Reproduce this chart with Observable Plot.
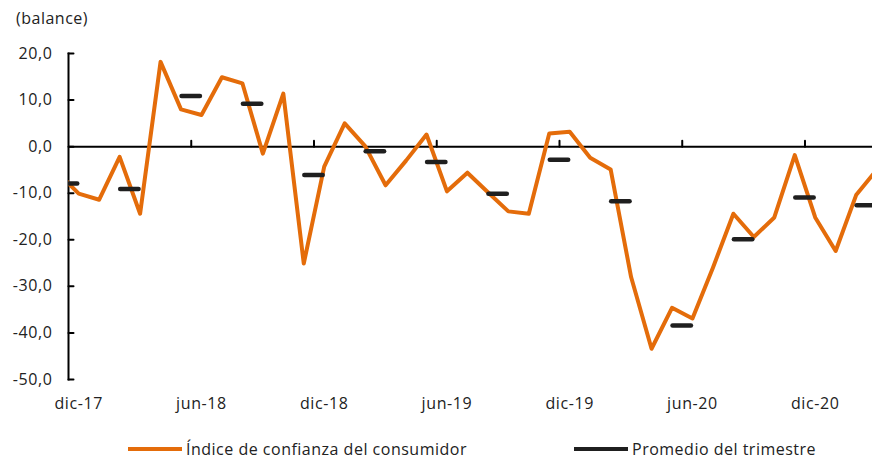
<!DOCTYPE html>
<html>
<head>
<meta charset="utf-8">
<script src="https://cdn.jsdelivr.net/npm/d3@7"></script>
<script src="https://cdn.jsdelivr.net/npm/@observablehq/plot@0.6"></script>
<style>
  html, body { margin: 0; padding: 0; background: #fff; }
  #wrap { position: relative; width: 872px; height: 459px; overflow: hidden; font-family: "Open Sans", sans-serif; color: #222; letter-spacing: 0.5px; }
  #unit { position: absolute; left: 16px; top: 7px; font-size: 16px; }
  #chart { position: absolute; left: 0; top: 0; }
  .leg { position: absolute; top: 438px; font-size: 16px; display: flex; align-items: center; }
  .leg .sw { display: inline-block; width: 54px; height: 4px; margin-right: 4px; }
</style>
</head>
<body>
<div id="wrap">
  <div id="chart"></div>
  <div id="unit">(balance)</div>
  <div class="leg" style="left:128px"><span class="sw" style="background:#E46C0A"></span>Índice de confianza del consumidor</div>
  <div class="leg" style="left:574px"><span class="sw" style="background:#1f1f1f"></span>Promedio del trimestre</div>
</div>
<script>
// Monthly consumer confidence index (balance)
const months = ["nov-17","dic-17","ene-18","feb-18","mar-18","abr-18","may-18","jun-18","jul-18","ago-18","sep-18","oct-18","nov-18","dic-18","ene-19","feb-19","mar-19","abr-19","may-19","jun-19","jul-19","ago-19","sep-19","oct-19","nov-19","dic-19","ene-20","feb-20","mar-20","abr-20","may-20","jun-20","jul-20","ago-20","sep-20","oct-20","nov-20","dic-20","ene-21","feb-21","mar-21"];
const values = [-5.7,-10.1,-11.4,-2.2,-14.4,18.2,8.0,6.8,14.9,13.6,-1.5,11.4,-25.1,-4.3,5.0,0.1,-8.3,-3.0,2.6,-9.6,-5.6,-9.8,-13.9,-14.4,2.8,3.2,-2.4,-4.9,-28.0,-43.4,-34.6,-36.9,-26.0,-14.4,-19.4,-15.2,-1.8,-15.2,-22.4,-10.4,-5.0];

// Quarterly averages (last month of each quarter)
const quarterEnd = ["dic-17","mar-18","jun-18","sep-18","dic-18","mar-19","jun-19","sep-19","dic-19","mar-20","jun-20","sep-20","dic-20","mar-21"];
const quarterAvg = [-7.9,-9.1,10.9,9.2,-6.1,-1.0,-3.3,-10.1,-2.8,-11.7,-38.4,-19.9,-10.9,-12.6];

// Axis labels
const xLabels = ["dic-17","jun-18","dic-18","jun-19","dic-19","jun-20","dic-20"];
const yTicks = [-50,-40,-30,-20,-10,0,10,20];

const first = months.indexOf("dic-17");
const pos = m => months.indexOf(m) - first;   // month position, dic-17 = 0

const orange = "#E46C0A";
const dark = "#1f1f1f";
const lineShape = { draw(context, l) { context.moveTo(0, 0); context.lineTo(0, -l); } };

const lineData = months.map((m, i) => ({m, v: values[i]}));
const qData = quarterEnd.map((m, i) => ({m, v: quarterAvg[i]}));
// boundaries between half-years (tick marks between categories)
const xTickPos = xLabels.slice(1).map(m => pos(m) - 0.5);

const chart = Plot.plot({
  width: 872,
  height: 420,
  marginLeft: 68,
  marginRight: 0,
  marginTop: 53,
  marginBottom: 41,
  x: {type: "linear", domain: [-0.5, 38.8]},
  y: {domain: [-50, 20]},
  style: {fontFamily: "Open Sans, sans-serif", fontSize: "16px", letterSpacing: "0.6px", color: "#222", background: "transparent"},
  marks: [
    Plot.axisY({ticks: yTicks, tickSize: 0, tickPadding: 16, label: null,
      tickFormat: d => d.toFixed(1).replace(".", ",").replace("-0,0", "0,0")}),
    Plot.axisX({ticks: xLabels.map(pos), tickSize: 0, tickPadding: 18, label: null,
      tickFormat: p => months[p + first]}),
    Plot.ruleY([0], {stroke: "black", strokeWidth: 2}),
    Plot.frame({anchor: "left", stroke: "black", strokeWidth: 2}),
    Plot.vector(yTicks, {y: d => d, frameAnchor: "left", rotate: 90, anchor: "start", length: 5,
      shape: lineShape, stroke: "black", strokeWidth: 2}),
    Plot.vector(xTickPos, {x: d => d, y: d => 0, rotate: 0, anchor: "start", length: 6,
      shape: lineShape, stroke: "black", strokeWidth: 2}),
    Plot.line(lineData, {x: d => pos(d.m), y: "v", stroke: orange, strokeWidth: 4,
      strokeLinejoin: "round", clip: true}),
    Plot.ruleY(qData, {x1: d => pos(d.m) - 0.95, x2: d => pos(d.m) - 0.05, y: "v",
      stroke: dark, strokeWidth: 4.5, strokeLinecap: "round", clip: true})
  ]
});
document.getElementById("chart").appendChild(chart);
</script>
</body>
</html>
